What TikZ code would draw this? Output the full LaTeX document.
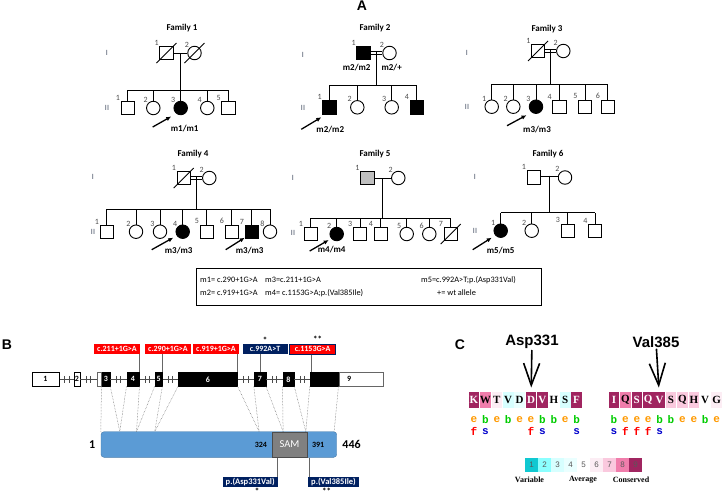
\documentclass[tikz,border=0pt]{standalone}
\usepackage{fontspec}
\setmainfont{Carlito}
\newfontfamily\arialfont{Liberation Sans}
\newfontfamily\timesfont{Liberation Serif}
\newfontfamily\courfont{Liberation Mono}
\usetikzlibrary{arrows.meta,calc,positioning}
\definecolor{MutRed}{RGB}{255,0,0}
\definecolor{MutNavy}{RGB}{0,32,96}
\definecolor{ProtBlue}{RGB}{91,155,213}
\definecolor{GenGrey}{RGB}{70,80,100}
\definecolor{cs1}{RGB}{16,200,209}
\definecolor{cs2}{RGB}{140,255,255}
\definecolor{cs3}{RGB}{215,255,255}
\definecolor{cs4}{RGB}{234,255,255}
\definecolor{cs5}{RGB}{255,255,255}
\definecolor{cs6}{RGB}{252,237,244}
\definecolor{cs7}{RGB}{250,201,222}
\definecolor{cs8}{RGB}{240,125,171}
\definecolor{cs9}{RGB}{160,37,96}
\definecolor{cole}{RGB}{255,153,0}
\definecolor{colb}{RGB}{0,204,0}
\definecolor{colf}{RGB}{255,0,0}
\definecolor{cols}{RGB}{0,0,204}
\begin{document}
\begin{tikzpicture}[x=1pt, y=-1pt,
        ped/.style={draw, line width=0.9pt, minimum size=13.5pt, inner sep=0pt},
        pline/.style={line width=0.9pt},
        consang/.style={line width=0.7pt, double, double distance=2pt},
        num/.style={font=\fontsize{8}{8}\selectfont, text=black!70, inner sep=0.3pt},
        gen/.style={font=\fontsize{8}{8}\selectfont, text=GenGrey},
        famlabel/.style={font=\bfseries\fontsize{9}{10}\selectfont},
        geno/.style={font=\bfseries\fontsize{9}{10}\selectfont, inner sep=1pt},
        proband/.style={-{Latex[length=5pt,width=4.5pt]}, line width=1.3pt},
        legtext/.style={anchor=west, font=\fontsize{8.3}{9}\selectfont, inner sep=0pt},
        panel/.style={font=\arialfont\bfseries\fontsize{14}{14}\selectfont},
        exon/.style={draw, minimum height=13.3pt, inner sep=0pt, font=\bfseries\fontsize{8}{8}\selectfont},
        brk/.style={line width=0.5pt, black!70},
        dotline/.style={densely dotted, black!60, line width=0.5pt},
        mutline/.style={black!60, line width=0.6pt},
        redtag/.style={fill=MutRed, text=white, font=\bfseries\fontsize{8}{8}\selectfont, inner xsep=3pt, inner ysep=0pt, minimum height=10pt, minimum width=45pt},
        navytag/.style={redtag, fill=MutNavy},
        ptag/.style={navytag, minimum width=0pt, font=\bfseries\fontsize{8.5}{9}\selectfont, minimum height=10.6pt},
        startext/.style={font=\bfseries\fontsize{9}{9}\selectfont, inner sep=0.5pt},
        bigtitle/.style={font=\arialfont\bfseries\fontsize{15}{15}\selectfont, inner sep=1pt},
        res/.style={minimum width=10.6pt, minimum height=16.5pt, inner sep=0pt, font=\timesfont\bfseries\fontsize{11}{11}\selectfont},
        grade/.style={font=\courfont\bfseries\fontsize{11}{11}\selectfont, inner sep=0pt},
        bigarrow/.style={-{Straight Barb[length=22pt,width=16pt,line width=1.6pt]}, line width=1.6pt, shorten >=4pt},
        legbox/.style={minimum width=13pt, minimum height=13.3pt, inner sep=0pt, font=\arialfont\fontsize{8}{8}\selectfont, text=black!65},
        leglabel/.style={font=\timesfont\bfseries\fontsize{8}{8}\selectfont, inner sep=0pt}
    ]
    \useasboundingbox (0,0) rectangle (726,499);
    \node[panel] (labA) at (362,6) {A};

    % ---------- Family 1
    \node[famlabel] (fam1) at (182,28) {Family 1};
    \node[gen] (f1gI) at (107,53) {I};
    \node[gen] (f1gII) at (107,108) {II};
    \node[ped, label={[num]135:1}] (f1a) at (166.5,53) {};
    \node[ped, circle, label={[num]135:2}] (f1b) at (194.5,53) {};
    \draw[pline] (f1a) -- (f1b);
    \draw[pline] ($(f1a)+(-10,10)$) -- ($(f1a)+(10,-10)$);
    \draw[pline] ($(f1b)+(-10,10)$) -- ($(f1b)+(10,-10)$);
    \foreach \xx/\shp/\fil [count=\n] in {127.7/rectangle/white, 153.3/circle/white, 180.7/circle/black, 207.3/circle/white, 228.3/rectangle/white}
        \node[ped, shape=\shp, fill=\fil, label={[num]135:\n}] (f1c\n) at (\xx,108) {};
    \coordinate (f1m) at ($(f1a)!0.5!(f1b)$);
    \draw[pline] (f1m) -- ++(0,37) coordinate (f1s);
    \draw[pline] (f1c1.north |- f1s) -- (f1c5.north |- f1s);
    \foreach \n in {1,...,5}
        \draw[pline] (f1c\n.north) -- (f1c\n.north |- f1s);
    \draw[proband] ($(f1c3)+(-28,19)$) -- ($(f1c3)+(-9.5,8.5)$);
    \node[geno] (f1gt) at ($(f1c3)+(4,21)$) {m1/m1};

    % ---------- Family 2
    \node[famlabel] (fam2) at (375,28) {Family 2};
    \node[gen] (f2gI) at (303,55) {I};
    \node[gen] (f2gII) at (303,108) {II};
    \node[ped, fill=black, label={[num]135:1}] (f2a) at (363.5,53) {};
    \node[ped, circle, label={[num]135:2}] (f2b) at (389.5,53) {};
    \draw[consang] (f2a) -- (f2b);
    \node[geno] (f2gta) at (356.7,68) {m2/m2};
    \node[geno] (f2gtb) at (391.7,68) {m2/+};
    \foreach \xx/\shp/\fil [count=\n] in {329.3/rectangle/black, 357.3/circle/white, 391.7/circle/white, 416.7/rectangle/black}
        \node[ped, shape=\shp, fill=\fil, label={[num]135:\n}] (f2c\n) at (\xx,107.3) {};
    \coordinate (f2m) at ($(f2a)!0.5!(f2b)$);
    \draw[pline] ([yshift=2pt]f2m) -- ++(0,34) coordinate (f2s);
    \draw[pline] (f2c1.north |- f2s) -- (f2c4.north |- f2s);
    \foreach \n in {1,...,4}
        \draw[pline] (f2c\n.north) -- (f2c\n.north |- f2s);
    \draw[proband] ($(f2c1)+(-28,22)$) -- ($(f2c1)+(-8,10)$);
    \node[geno] (f2gt) at ($(f2c1)+(1,22)$) {m2/m2};

    % ---------- Family 3
    \node[famlabel] (fam3) at (547,29) {Family 3};
    \node[gen] (f3gI) at (467,53) {I};
    \node[gen] (f3gII) at (467,107) {II};
    \node[ped, label={[num]135:1}] (f3a) at (538,51) {};
    \node[ped, circle, label={[num]135:2}] (f3b) at (563.3,51) {};
    \draw[consang] (f3a) -- (f3b);
    \draw[pline] ($(f3a)+(-10,10)$) -- ($(f3a)+(10,-10)$);
    \foreach \xx/\shp/\fil [count=\n] in {491.7/circle/white, 513.3/circle/white, 536/circle/black, 559.3/rectangle/white, 585/rectangle/white, 607.7/rectangle/white}
        \node[ped, shape=\shp, fill=\fil, label={[num]135:\n}] (f3c\n) at (\xx,106.7) {};
    \coordinate (f3m) at ($(f3a)!0.5!(f3b)$);
    \draw[pline] ([yshift=2pt]f3m) -- ++(0,35.3) coordinate (f3s);
    \draw[pline] (f3c1.north |- f3s) -- (f3c6.north |- f3s);
    \foreach \n in {1,...,6}
        \draw[pline] (f3c\n.north) -- (f3c\n.north |- f3s);
    \draw[proband] ($(f3c3)+(-29,19)$) -- ($(f3c3)+(-9.5,8.5)$);
    \node[geno] (f3gt) at ($(f3c3)+(1,22.6)$) {m3/m3};

    % ---------- Family 4
    \node[famlabel] (fam4) at (193,154) {Family 4};
    \node[gen] (f4gI) at (93,177) {I};
    \node[gen] (f4gII) at (93,232) {II};
    \node[ped, label={[num]135:1}] (f4a) at (183.7,178) {};
    \node[ped, circle, label={[num]135:2}] (f4b) at (209.3,178) {};
    \draw[consang] (f4a) -- (f4b);
    \draw[pline] ($(f4a)+(-10,10)$) -- ($(f4a)+(10,-10)$);
    \foreach \xx/\shp/\fil [count=\n] in {106.7/rectangle/white, 136/circle/white, 160/circle/white, 182.7/circle/black, 206.7/rectangle/white, 231.7/rectangle/white, 251.7/rectangle/black, 270/circle/white}
        \node[ped, shape=\shp, fill=\fil, label={[num]135:\n}] (f4c\n) at (\xx,231.7) {};
    \coordinate (f4m) at ($(f4a)!0.5!(f4b)$);
    \draw[pline] ([yshift=2pt]f4m) -- ++(0,33.3) coordinate (f4s);
    \draw[pline] (f4c1.north |- f4s) -- (f4c8.north |- f4s);
    \foreach \n in {1,...,8}
        \draw[pline] (f4c\n.north) -- (f4c\n.north |- f4s);
    \draw[proband] ($(f4c4)+(-31,18)$) -- ($(f4c4)+(-9.5,6)$);
    \draw[proband] ($(f4c7)+(-26,18)$) -- ($(f4c7)+(-7,6)$);
    \node[geno] (f4gta) at ($(f4c4)+(-4,19)$) {m3/m3};
    \node[geno] (f4gtb) at ($(f4c7)+(-2,19)$) {m3/m3};

    % ---------- Family 5
    \node[famlabel] (fam5) at (375,154) {Family 5};
    \node[gen] (f5gI) at (293,178) {I};
    \node[gen] (f5gII) at (293,233) {II};
    \node[ped, fill=black!25, label={[num]135:1}] (f5a) at (367.2,178) {};
    \node[ped, circle, label={[num]135:2}] (f5b) at (398.3,178) {};
    \draw[pline] (f5a) -- (f5b);
    \foreach \xx/\shp/\fil [count=\n] in {310.7/rectangle/white, 336.7/circle/black, 360/rectangle/white, 380.7/rectangle/white, 406.7/circle/white, 429.3/circle/white, 450.7/rectangle/white}
        \node[ped, shape=\shp, fill=\fil, label={[num]135:\n}] (f5c\n) at (\xx,234) {};
    \draw[pline] ($(f5c7)+(-10,10)$) -- ($(f5c7)+(10,-10)$);
    \coordinate (f5m) at ($(f5a)!0.5!(f5b)$);
    \draw[pline] (f5m) -- ++(0,40) coordinate (f5s);
    \draw[pline] (f5c1.north |- f5s) -- (f5c7.north |- f5s);
    \foreach \n in {1,...,7}
        \draw[pline] (f5c\n.north) -- (f5c\n.north |- f5s);
    \draw[proband] ($(f5c2)+(-27,17)$) -- ($(f5c2)+(-8,6)$);
    \node[geno] (f5gt) at ($(f5c2)+(-5,16)$) {m4/m4};

    % ---------- Family 6
    \node[famlabel] (fam6) at (548,154) {Family 6};
    \node[gen] (f6gI) at (475,177) {I};
    \node[gen] (f6gII) at (475,231) {II};
    \node[ped, label={[num]135:1}] (f6a) at (533.7,177.5) {};
    \node[ped, circle, label={[num]135:2}] (f6b) at (565,177.5) {};
    \draw[consang] (f6a) -- (f6b);
    \foreach \xx/\shp/\fil [count=\n] in {500.7/circle/black, 531.7/circle/white, 567.7/rectangle/white, 595/rectangle/white}
        \node[ped, shape=\shp, fill=\fil, label={[num]135:\n}] (f6c\n) at (\xx,230.7) {};
    \coordinate (f6m) at ($(f6a)!0.5!(f6b)$);
    \draw[pline] ([yshift=2pt]f6m) -- ++(0,37.2) coordinate (f6s);
    \draw[pline] (f6c1.north |- f6s) -- (f6c4.north |- f6s);
    \foreach \n in {1,...,4}
        \draw[pline] (f6c\n.north) -- (f6c\n.north |- f6s);
    \draw[proband] ($(f6c1)+(-28,19)$) -- ($(f6c1)+(-9,7)$);
    \node[geno] (f6gt) at ($(f6c1)+(0,20)$) {m5/m5};

    % ---------- Mutation key
    \node[draw, line width=0.8pt, minimum width=345pt, minimum height=37pt, inner sep=0pt] (key) at (368.5,286.5) {};
    \node[legtext] (k1) at (200,280) {m1= c.290+1G>A};
    \node[legtext] (k3) at (265,280) {m3=c.211+1G>A};
    \node[legtext] (k5) at (421,280) {m5=c.992A>T;p.(Asp331Val)};
    \node[legtext] (k2) at (200,293) {m2= c.919+1G>A};
    \node[legtext] (k4) at (265,293) {m4= c.1153G>A;p.(Val385Ile)};
    \node[legtext] (kw) at (437,293) {+= wt allele};

    % ---------- Panel B: gene structure
    \node[panel] (labB) at (7,345) {B};
    \foreach \n/\xa/\xb/\fil/\tc in {1/31.7/59.3/white/black, 2/74/80/white/black, 3/101.7/110/black/white, 4/126.7/139.3/black/white, 5/155/162.3/black/white, 6/178.3/237.3/black/white, 7/254/265.7/black/white, 8/282.7/294/black/white}
        \node[exon, fill=\fil, text=\tc, minimum width={(\xb-\xa)*1pt}] (e\n) at ({(\xa+\xb)/2},379.3) {\n};
    \node[exon, draw=black!60, minimum width=4.4pt, left=0pt of e3] (e3u) {};
    \node[exon, fill=black, minimum width=28.3pt] (e9) at (324.15,379.3) {};
    \node[exon, draw=black!60, minimum width=44.7pt, right=0pt of e9, text=black] (e9u) {\hspace*{-24pt}9};
    \foreach \a/\b in {e1/e2, e2/e3u, e3/e4, e4/e5, e5/e6, e6/e7, e7/e8, e8/e9} {
        \draw[black!70, line width=0.6pt] (\a.east) -- (\b.west);
        \draw[brk] ($(\a.east)!0.5!(\b.west)+(-2.2,-3.5)$) -- ++(0,7);
        \draw[brk] ($(\a.east)!0.5!(\b.west)+(2.2,-3.5)$) -- ++(0,7);
    }

    % mutations on the gene
    \node[redtag] (m211) at (117,349) {c.211+1G>A};
    \node[redtag] (m290) at (168,349) {c.290+1G>A};
    \node[redtag] (m919) at (216,349) {c.919+1G>A};
    \node[navytag] (m992) at (265,349) {c.992A>T};
    \node[redtag, draw=MutNavy, line width=1pt, minimum width=46pt] (m1153) at (312.7,349) {c.1153G>A};
    \node[startext, above=0pt of m992] (st992) {*};
    \node[startext, above=0pt of m1153, xshift=5pt] (st1153) {**};
    \draw[mutline] (m211.south -| e4.east) -- (e4.north east);
    \draw[mutline] (m290.south -| e5.east) -- (e5.north east);
    \draw[mutline] (m919.south -| e6.east) -- (e6.north east);
    \draw[mutline] (m992.south -| e7.north) -- (e7.north);
    \draw[mutline] ([xshift=1pt]m1153.south -| e9.west) -- ([xshift=1pt]e9.north west);

    % ---------- protein
    \node[draw=ProtBlue!80!black, fill=ProtBlue, rounded corners=3pt, minimum width=235.7pt, minimum height=25.6pt, inner sep=0pt] (prot) at (218.85,444.5) {};
    \node[draw=black!70, fill=black!50, minimum width=35.6pt, minimum height=25.6pt, inner sep=0pt, text=white, font=\fontsize{10.5}{11}\selectfont] (sam) at (289.5,444.5) {SAM};
    \node[font=\bfseries\fontsize{8}{8}\selectfont, left=1pt of sam] (a324) {324};
    \node[font=\bfseries\fontsize{8}{8}\selectfont, right=1pt of sam] (a391) {391};
    \node[font=\bfseries\fontsize{12}{12}\selectfont, left=2pt of prot] (a1) {1};
    \node[font=\bfseries\fontsize{12}{12}\selectfont, right=2pt of prot] (a446) {446};
    \foreach \ex/\dx in {e3.south west/0, e3.south east/19, e4.south west/19, e4.south east/35.7, e5.south west/35.7, e5.south east/54, e6.south west/54, e6.south east/158.3, e7.south west/158.3, e7.south east/182.3, e8.south west/182.3, e8.south east/205, e9.south west/205, e9.south east/233.3}
        \draw[dotline] (\ex) -- ($(prot.north west)+(\dx,0)$);

    % protein changes
    \node[ptag] (pasp) at (250.2,482) {p.(Asp331Val)};
    \node[ptag] (pval) at (333.5,482) {p.(Val385Ile)};
    \draw[mutline] ([xshift=-1pt]pasp.north east) -- ([xshift=-1pt]pasp.north east |- sam.south);
    \draw[mutline] ([xshift=1pt]pval.north west) -- ([xshift=1pt]pval.north west |- sam.south);
    \node[startext, below=0pt of pasp, xshift=7pt] (stasp) {*};
    \node[startext, below=0pt of pval, xshift=-7pt] (stval) {**};

    % ---------- Panel C: conservation
    \node[panel] (labC) at (460,345) {C};
    \node[bigtitle] (asp) at (532,342) {Asp331};
    \node[bigtitle] (val) at (656,342) {Val385};
    \foreach \rl/\rg/\rt [count=\i] in {K/9/white, W/8/black, T/6/black, V/3/black, D/4/black, D/9/white, V/9/white, H/5/black, S/3/black, F/9/white}
        \node[res, fill=cs\rg, text=\rt] (ra\i) at ({474+11.4*(\i-1)},400) {\rl};
    \foreach \rl/\rg/\rt [count=\i] in {I/9/white, Q/8/black, S/9/white, Q/9/white, V/9/white, S/7/black, Q/7/black, H/7/black, V/5/black, G/6/black}
        \node[res, fill=cs\rg, text=\rt] (rb\i) at ({614+11.4*(\i-1)},400) {\rl};
    \foreach \c [count=\i] in {e,b,e,b,e,e,b,b,e,b}
        \node[grade, text=col\c] (ga\i) at (ra\i |- 0,419.3) {\c};
    \foreach \c [count=\i] in {b,e,e,e,b,b,e,e,b,e}
        \node[grade, text=col\c] (gb\i) at (rb\i |- 0,419.3) {\c};
    \foreach \i/\c in {1/f, 2/s, 6/f, 7/s, 10/s}
        \node[grade, text=col\c] (fa\i) at (ra\i |- 0,431.7) {\c};
    \foreach \i/\c in {1/s, 2/f, 3/f, 4/f, 5/s}
        \node[grade, text=col\c] (fb\i) at (rb\i |- 0,431.7) {\c};
    \draw[bigarrow] (asp) -- (ra6);
    \draw[bigarrow] (val) -- (rb5);

    % colour key
    \foreach \g in {1,...,9}
        \node[legbox, fill=cs\g] (lg\g) at ({518.5+13*\g},465) {\g};
    \node[leglabel] (lvar) at (529.5,479.5) {Variable};
    \node[leglabel] (lavg) at (583,479.5) {Average};
    \node[leglabel] (lcon) at (631,479.5) {Conserved};
\end{tikzpicture}
\end{document}
